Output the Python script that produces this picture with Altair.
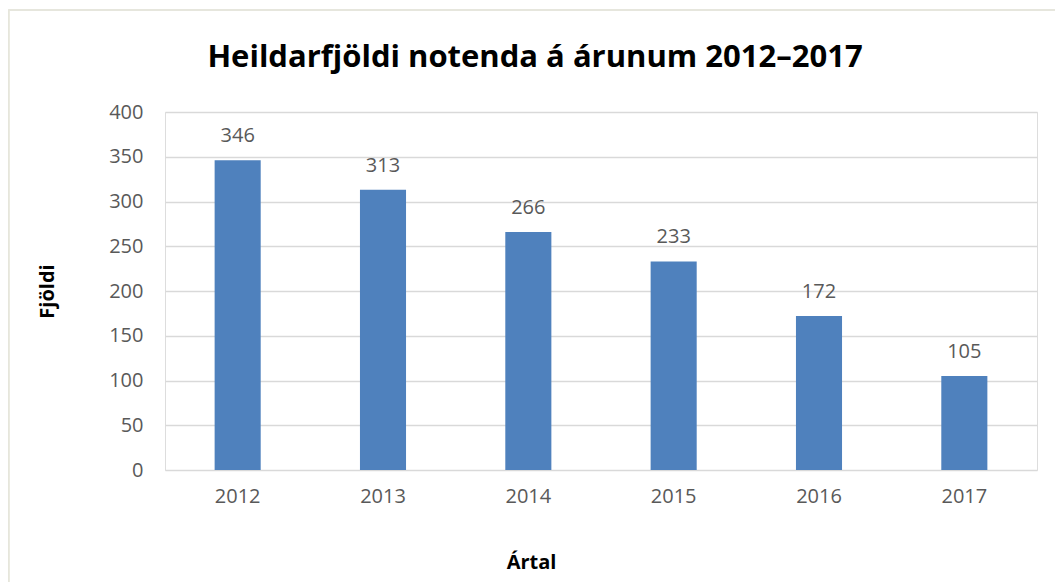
import altair as alt
import pandas as pd

years = ["2012", "2013", "2014", "2015", "2016", "2017"]
users = [346, 313, 266, 233, 172, 105]
y_ticks = [0, 50, 100, 150, 200, 250, 300, 350, 400]

df = pd.DataFrame({"Ártal": years, "Fjöldi": users})

FONT = "Open Sans"
GREY = "#595959"
FRAME = "#e6e6dc"

base = alt.Chart(df)

bars = base.mark_bar(color="#4f81bd").encode(
    x=alt.X(
        "Ártal:N",
        sort=years,
        scale=alt.Scale(paddingInner=0.683, paddingOuter=0.3415),
        axis=alt.Axis(
            title="Ártal",
            labelAngle=0,
            labelFont=FONT,
            labelFontSize=20,
            labelColor=GREY,
            labelPadding=16,
            ticks=False,
            domain=False,
            titleFont=FONT,
            titleFontSize=20,
            titleFontWeight="bold",
            titleColor="#000000",
            titleX=366,
            titleY=92,
            titleBaseline="middle",
        ),
    ),
    y=alt.Y(
        "Fjöldi:Q",
        scale=alt.Scale(domain=[0, 400], nice=False),
        axis=alt.Axis(
            title="Fjöldi",
            values=y_ticks,
            labelFont=FONT,
            labelFontSize=20,
            labelColor=GREY,
            labelPadding=22,
            ticks=False,
            domain=False,
            grid=True,
            gridColor="#d9d9d9",
            gridWidth=1.5,
            titleFont=FONT,
            titleFontSize=20,
            titleFontWeight="bold",
            titleColor="#000000",
            titleX=-118,
            titleY=179,
            titleBaseline="middle",
        ),
    ),
)

labels = base.mark_text(
    font=FONT, fontSize=20, color=GREY, baseline="alphabetic", dy=-18
).encode(
    x=alt.X("Ártal:N", sort=years),
    y=alt.Y("Fjöldi:Q"),
    text=alt.Text("Fjöldi:Q"),
)

# faint outer chart frame (decoration only)
frame_left = alt.Chart(df).mark_rule(color=FRAME, strokeWidth=1.5).encode(
    x=alt.value(-156.5), y=alt.value(-102), y2=alt.value(480)
)
frame_top = alt.Chart(df).mark_rule(color=FRAME, strokeWidth=1.5).encode(
    x=alt.value(-156.5), x2=alt.value(900), y=alt.value(-102)
)

chart = (
    alt.layer(frame_left, frame_top, bars, labels)
    .properties(
        width=872,
        height=358,
        autosize=alt.AutoSizeParams(type="none"),
        padding={"left": 157, "top": 104, "right": 18, "bottom": 112},
        title=alt.Title(
            "Heildarfjöldi notenda á árunum 2012–2017",
            font=FONT,
            fontSize=31,
            fontWeight="bold",
            color="#000000",
            anchor="middle",
            frame="group",
            dx=-66,
            dy=65,
            offset=0,
        ),
    )
    .configure_view(stroke=None)
    .configure(background="white")
)

chart.save("out.html", embed_options={"renderer": "svg", "actions": False})
